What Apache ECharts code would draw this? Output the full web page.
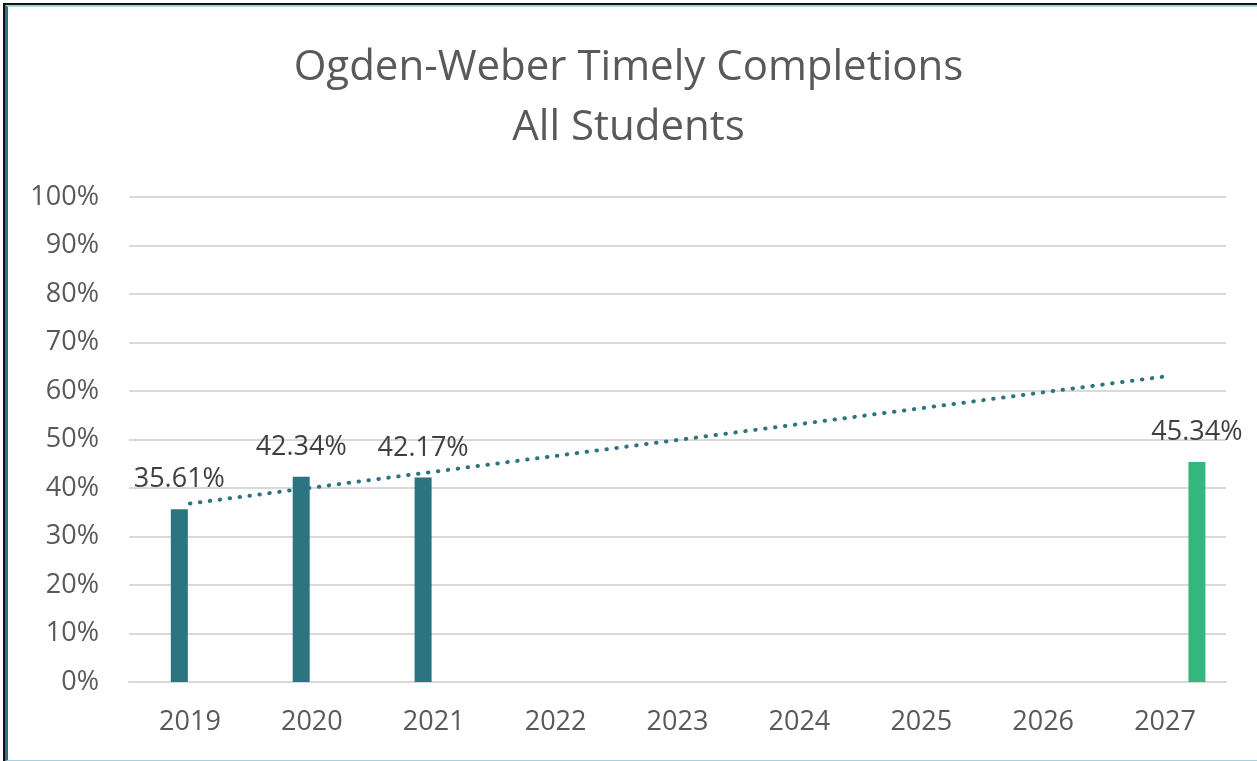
<!DOCTYPE html>
<html>
<head>
<meta charset="utf-8">
<title>Ogden-Weber Timely Completions</title>
<script src="https://cdn.jsdelivr.net/npm/echarts@6/dist/echarts.min.js"></script>
<style>
  html, body { margin: 0; padding: 0; background: #fff; }
  #frame {
    position: absolute; left: 3px; top: 3px; width: 1254px; height: 758px;
    border-left: 2px solid #111; border-top: 2px solid #111; box-sizing: border-box;
  }
  #inner {
    position: absolute; left: 0; top: 0; right: 0; bottom: 0;
    border-left: 3px solid #2c7480; border-top: 2px solid #a9d6d6; border-bottom: 1px solid #a9cfe0;
  }
  #chart { position: absolute; left: 0; top: 0; width: 1257px; height: 761px; }
</style>
</head>
<body>
<div id="frame"><div id="inner"></div></div>
<div id="chart"></div>
<script>
var years = ['2019', '2020', '2021', '2022', '2023', '2024', '2025', '2026', '2027'];
// actual completion rates (%)
var actual = [35.61, 42.34, 42.17, null, null, null, null, null, null];
// 2027 goal (%)
var goal = [null, null, null, null, null, null, null, null, 45.34];
// linear trend of the actual values at both ends
var trend = [36.8, null, null, null, null, null, null, null, 63.0];
var yTicks = [0, 10, 20, 30, 40, 50, 60, 70, 80, 90, 100];

var font = 'Open Sans';
var empty = years.map(function () { return null; });

var myChart = echarts.init(document.getElementById('chart'));

var barLabel = {
    show: true,
    position: 'top',
    distance: 16,
    color: '#404040',
    fontFamily: font,
    fontSize: 27,
    formatter: function (p) { return p.value.toFixed(2) + '%'; }
};

var option = {
    backgroundColor: 'transparent',
    animation: false,
    title: {
        text: 'Ogden-Weber Timely Completions\nAll Students',
        left: 'center',
        top: 33,
        textStyle: {
            color: '#595959',
            fontFamily: font,
            fontWeight: 'normal',
            fontSize: 42,
            lineHeight: 60
        }
    },
    grid: { left: 129, right: 31, top: 197, bottom: 79, containLabel: false },
    xAxis: {
        type: 'category',
        data: years,
        axisLine: { show: true, lineStyle: { color: '#d9d9d9', width: 2 } },
        axisTick: { show: false },
        axisLabel: { color: '#595959', fontFamily: font, fontSize: 27, margin: 27 }
    },
    yAxis: {
        type: 'value',
        min: yTicks[0],
        max: yTicks[yTicks.length - 1],
        interval: 10,
        axisLine: { show: false },
        axisTick: { show: false },
        splitLine: { lineStyle: { color: '#d9d9d9', width: 2 } },
        axisLabel: {
            color: '#595959', fontFamily: font, fontSize: 27, margin: 30,
            formatter: '{value}%'
        }
    },
    series: [
        { name: '', type: 'bar', data: empty, barWidth: 17, barGap: '25%' },
        {
            name: 'Actual', type: 'bar', data: actual, barWidth: 17, barGap: '25%',
            itemStyle: { color: '#2c7480' }, label: barLabel
        },
        { name: ' ', type: 'bar', data: empty, barWidth: 17, barGap: '25%' },
        {
            name: 'Goal', type: 'bar', data: goal, barWidth: 17, barGap: '25%',
            itemStyle: { color: '#36b67f' }, label: barLabel
        },
        {
            name: 'Trend', type: 'line', data: trend, connectNulls: true,
            symbol: 'none', silent: true, z: 5,
            lineStyle: { color: '#2c7480', width: 4, type: [0.5, 9.5], cap: 'round' }
        }
    ]
};
myChart.setOption(option);
</script>
</body>
</html>
